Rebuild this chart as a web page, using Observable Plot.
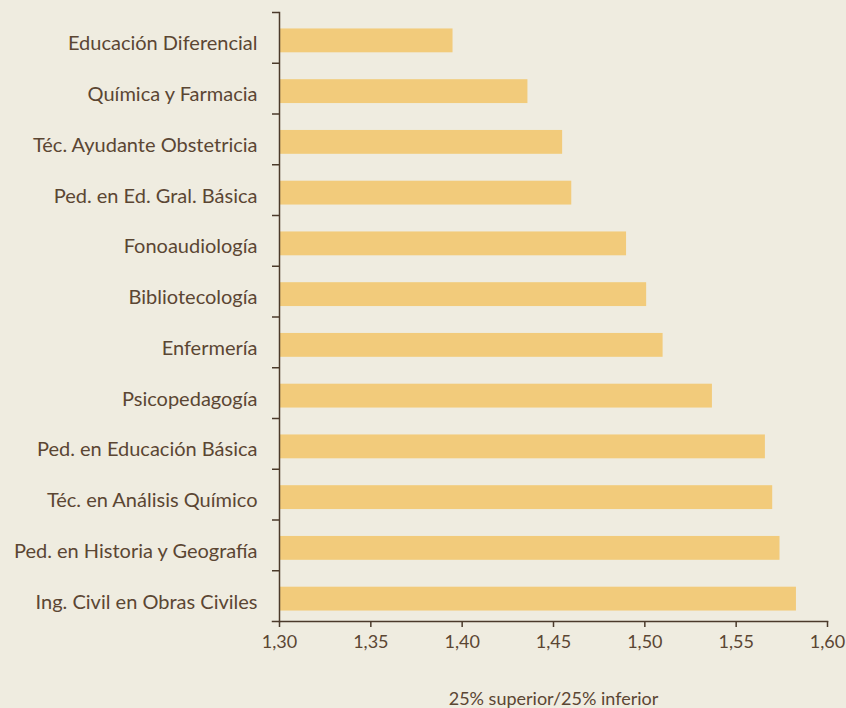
<!DOCTYPE html>
<html>
<head>
<meta charset="utf-8">
<script src="https://cdn.jsdelivr.net/npm/d3@7"></script>
<script src="https://cdn.jsdelivr.net/npm/@observablehq/plot@0.6"></script>
<style>
  html, body { margin: 0; padding: 0; background: #efece0; }
  #chart svg { display: block; }
</style>
</head>
<body>
<div id="chart"></div>
<script>
const carreras = [
  "Educación Diferencial",
  "Química y Farmacia",
  "Téc. Ayudante Obstetricia",
  "Ped. en Ed. Gral. Básica",
  "Fonoaudiología",
  "Bibliotecología",
  "Enfermería",
  "Psicopedagogía",
  "Ped. en Educación Básica",
  "Téc. en Análisis Químico",
  "Ped. en Historia y Geografía",
  "Ing. Civil en Obras Civiles"
];
const ratios = [1.395, 1.436, 1.455, 1.460, 1.490, 1.501, 1.510, 1.537, 1.566, 1.570, 1.574, 1.583];
const xTicks = [1.30, 1.35, 1.40, 1.45, 1.50, 1.55, 1.60];
const xLabel = "25% superior/25% inferior";

const data = carreras.map((c, i) => ({carrera: c, ratio: ratios[i]}));

const W = 846, H = 708;
const mTop = 12, mBottom = 87, mLeft = 279, mRight = 19;
const step = (H - mTop - mBottom) / carreras.length;
const ink = "#5b4633";
const axisInk = "#4b3a2b";
const font = "Lato, 'Open Sans', sans-serif";

const chart = Plot.plot({
  width: W,
  height: H,
  marginTop: mTop,
  marginBottom: mBottom,
  marginLeft: mLeft,
  marginRight: mRight,
  style: {background: "#efece0", fontFamily: font, color: ink},
  x: {domain: [1.30, 1.60]},
  y: {domain: carreras, paddingInner: 0.53, paddingOuter: 0.265, round: false},
  marks: [
    Plot.barX(data, {x1: 1.30, x2: "ratio", y: "carrera", fill: "#f2cb7b", dy: 3}),
    Plot.frame({anchor: "left", stroke: axisInk, strokeWidth: 1.5}),
    Plot.frame({anchor: "bottom", stroke: axisInk, strokeWidth: 1.5, insetLeft: -7}),
    Plot.axisY({tickSize: 0, tickPadding: 22, fontSize: 20, fill: ink, label: null, dy: 6}),
    Plot.axisY({tickSize: 7, tickFormat: () => "", stroke: axisInk, strokeWidth: 1.5, label: null, dy: -step / 2}),
    Plot.axisX({
      ticks: xTicks,
      tickSize: 6,
      tickPadding: 8,
      stroke: axisInk,
      strokeWidth: 1.5,
      fontSize: 18,
      fill: ink,
      tickFormat: d => d.toFixed(2).replace(".", ","),
      label: xLabel,
      labelAnchor: "center",
      labelArrow: "none",
      labelOffset: 83
    })
  ]
});
document.getElementById("chart").appendChild(chart);
</script>
</body>
</html>
